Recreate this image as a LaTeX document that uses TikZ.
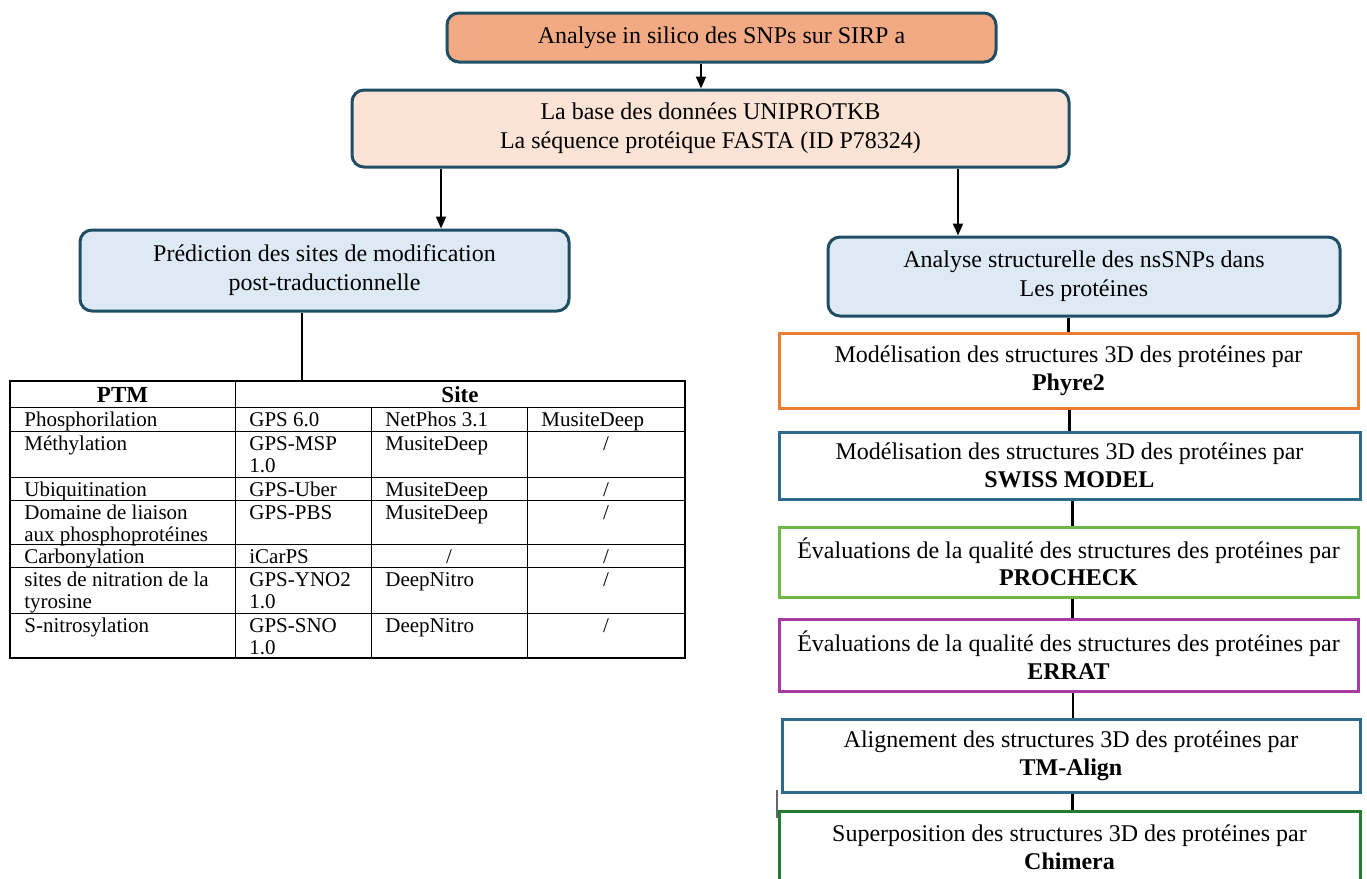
\documentclass[tikz,border=0pt]{standalone}
\usepackage{fontspec}
\setmainfont{Liberation Serif}
\usetikzlibrary{arrows.meta}
\definecolor{darkb}{HTML}{1F4D63}
\definecolor{orfill}{HTML}{F2AA84}
\definecolor{peach}{HTML}{FBE3D5}
\definecolor{lblue}{HTML}{DDEAF6}
\definecolor{orb}{HTML}{ED7D31}
\definecolor{blb}{HTML}{2C6B8F}
\definecolor{grb}{HTML}{6EB847}
\definecolor{pub}{HTML}{A63AA6}
\definecolor{dgb}{HTML}{247A2E}
\tikzset{
  rbox/.style={draw=darkb, line width=1.5pt, rounded corners=6pt, align=center, inner sep=0pt,
    font=\fontsize{12}{14.5}\selectfont},
  sbox/.style={draw, line width=1.5pt, align=center, inner sep=0pt,
    font=\fontsize{12}{13.8}\selectfont},
  arr/.style={line width=1pt, -{Triangle[length=6pt,width=5pt]}},
  conn/.style={line width=1.2pt},
  cell/.style={inner sep=0pt, font=\fontsize{10.5}{11}\selectfont},
  hcell/.style={inner sep=0pt, font=\fontsize{11.5}{12}\selectfont\bfseries},
  tline/.style={line width=0.5pt},
}
\begin{document}
\begin{tikzpicture}[x=0.5pt,y=-0.5pt]
\useasboundingbox (0,0) rectangle (1367,879);
% top boxes
\node[rbox, fill=orfill, minimum width=274.5pt, minimum height=24.5pt] (b1) at (721.5,37.5) {Analyse in silico des SNPs sur SIRP a};
\node[rbox, fill=peach, minimum width=358.5pt, minimum height=38.5pt] (b2) at (710.5,128.5) {La base des données UNIPROTKB\\La séquence protéique FASTA (ID P78324)};
\node[rbox, fill=lblue, minimum width=244.5pt, minimum height=40.5pt] (b3) at (324.5,270.5) {Prédiction des sites de modification\\post-traductionnelle};
\node[rbox, fill=lblue, minimum width=256pt, minimum height=39.5pt] (b4) at (1084,276.5) {Analyse structurelle des nsSNPs dans\\Les protéines};
% right chain
\node[sbox, draw=orb, minimum width=289.5pt, minimum height=37.5pt] (b5) at (1068.5,370.5) {Modélisation des structures 3D des protéines par\\\textbf{Phyre2}};
\node[sbox, draw=blb, minimum width=290.5pt, minimum height=33.5pt] (b6) at (1069.5,465.5) {Modélisation des structures 3D des protéines par\\\textbf{SWISS MODEL}};
\node[sbox, draw=grb, minimum width=289.5pt, minimum height=35pt] (b7) at (1068.5,562) {Évaluations de la qualité des structures des protéines par\\\textbf{PROCHECK}};
\node[sbox, draw=pub, minimum width=289.5pt, minimum height=36pt] (b8) at (1068.5,655) {Évaluations de la qualité des structures des protéines par\\\textbf{ERRAT}};
\node[sbox, draw=blb, minimum width=289pt, minimum height=36.5pt] (b9) at (1071,755.5) {Alignement des structures 3D des protéines par\\\textbf{TM-Align}};
\node[sbox, draw=dgb, minimum width=290.5pt, minimum height=36.5pt] (b10) at (1069.5,847.5) {Superposition des structures 3D des protéines par\\\textbf{Chimera}};
% arrows
\draw[arr] ([xshift=-10.25pt]b1.south) -- ([xshift=-10.25pt]b1.south |- b2.north);
\draw[arr] ([xshift=-134.75pt]b2.south) -- ([xshift=-134.75pt]b2.south |- b3.north);
\draw[arr] ([xshift=123.75pt]b2.south) -- ([xshift=123.75pt]b2.south |- b4.north);
% chain connectors
\draw[conn] (b5.north) -- (b5.north |- b4.south);
\draw[conn] (b6.north) -- (b6.north |- b5.south);
\draw[conn] ([xshift=2pt]b7.north) -- ([xshift=2pt]b7.north |- b6.south);
\draw[conn] ([xshift=2pt]b8.north) -- ([xshift=2pt]b8.north |- b7.south);
\draw[conn] ([xshift=1pt]b9.north) -- ([xshift=1pt]b9.north |- b8.south);
\draw[conn] ([xshift=1.5pt]b10.north) -- ([xshift=1.5pt]b10.north |- b9.south);
\coordinate (stubA) at (777,790);
\coordinate (stubB) at (777,818);
\draw[line width=0.8pt, black!60] (stubA) -- (stubB);
% table
\node[draw, line width=0.8pt, minimum width=337.5pt, minimum height=138.5pt, inner sep=0pt] (tbl) at (347.5,519.5) {};
\draw[line width=1.2pt] ([xshift=-11.25pt]b3.south) -- ([xshift=-11.25pt]b3.south |- tbl.north);
% grid lines
\foreach \y in {407,431,477,500,544,567,613} \draw[tline] (10,\y) -- (685,\y);
\draw[tline] (235,382) -- (235,658);
\draw[tline] (371,407) -- (371,658);
\draw[tline] (527,407) -- (527,658);
% header
\node[hcell] (hPTM) at (122.5,395) {PTM};
\node[hcell] (hSite) at (460,395) {Site};
% rows
\tikzset{lc/.style={cell, anchor=base west}, cc/.style={cell, anchor=base}}
% row 1
\node[lc] (r1a) at (24,426) {Phosphorilation};
\node[lc] (r1b) at (249,426) {GPS 6.0};
\node[lc] (r1c) at (385,426) {NetPhos 3.1};
\node[lc] (r1d) at (541,426) {MusiteDeep};
% row 2
\node[lc] (r2a) at (24,450) {Méthylation};
\node[lc] (r2b) at (249,450) {GPS-MSP};
\node[lc] (r2b2) at (249,472) {1.0};
\node[lc] (r2c) at (385,450) {MusiteDeep};
\node[cc] (r2d) at (606,450) {/};
% row 3
\node[lc] (r3a) at (24,496) {Ubiquitination};
\node[lc] (r3b) at (249,496) {GPS-Uber};
\node[lc] (r3c) at (385,496) {MusiteDeep};
\node[cc] (r3d) at (606,496) {/};
% row 4
\node[lc] (r4a) at (24,519) {Domaine de liaison};
\node[lc] (r4a2) at (24,541) {aux phosphoprotéines};
\node[lc] (r4b) at (249,519) {GPS-PBS};
\node[lc] (r4c) at (385,519) {MusiteDeep};
\node[cc] (r4d) at (606,519) {/};
% row 5
\node[lc] (r5a) at (24,563) {Carbonylation};
\node[lc] (r5b) at (249,563) {iCarPS};
\node[cc] (r5c) at (449,563) {/};
\node[cc] (r5d) at (606,563) {/};
% row 6
\node[lc] (r6a) at (24,586) {sites de nitration de la};
\node[lc] (r6a2) at (24,608) {tyrosine};
\node[lc] (r6b) at (249,586) {GPS-YNO2};
\node[lc] (r6b2) at (249,608) {1.0};
\node[lc] (r6c) at (385,586) {DeepNitro};
\node[cc] (r6d) at (606,586) {/};
% row 7
\node[lc] (r7a) at (24,632) {S-nitrosylation};
\node[lc] (r7b) at (249,632) {GPS-SNO};
\node[lc] (r7b2) at (249,654) {1.0};
\node[lc] (r7c) at (385,632) {DeepNitro};
\node[cc] (r7d) at (606,632) {/};
\end{tikzpicture}
\end{document}
